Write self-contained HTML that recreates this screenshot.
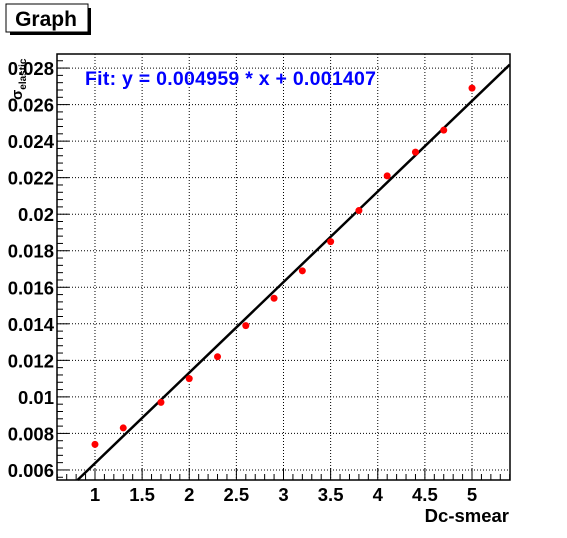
<!DOCTYPE html>
<html><head><style>
body{margin:0;background:#fff;font-family:"Liberation Sans",sans-serif}
</style></head><body>
<svg width="567" height="533" xmlns="http://www.w3.org/2000/svg" font-family="Liberation Sans, sans-serif">
<rect x="10" y="8" width="81" height="27" fill="#000"/>
<rect x="6" y="4" width="82" height="28" fill="#fff" stroke="#000"/>
<text x="46" y="26" font-size="21" font-weight="bold" text-anchor="middle">Graph</text>
<g id="grid"></g><g id="axes"></g><g id="marks"></g>
<text x="85" y="85" font-size="19.5" font-weight="bold" fill="#0000ff" textLength="291">Fit: y = 0.004959 * x + 0.001407</text>
<text x="509" y="522" font-size="18.5" font-weight="bold" text-anchor="end">Dc-smear</text>
<text transform="translate(22,100) rotate(-90)" font-size="15" font-weight="bold">σ<tspan font-size="10" dy="4">elastic</tspan></text>
</svg>
<script>
const xs=[1,1.3,1.7,2,2.3,2.6,2.9,3.2,3.5,3.8,4.1,4.4,4.7,5];
const ys=[0.0074,0.0083,0.0097,0.0110,0.0122,0.0139,0.0154,0.0169,0.0185,0.0202,0.0221,0.0234,0.0246,0.0269];
const xTicks=[1,1.5,2,2.5,3,3.5,4,4.5,5];
const yTicks=[0.006,0.008,0.01,0.012,0.014,0.016,0.018,0.02,0.022,0.024,0.026,0.028];
const fitSlope=0.004959, fitIntercept=0.001407;
const L=57,R=510,T=54,B=480,xmin=0.597,xmax=5.403,ymin=0.00545,ymax=0.02877;
const X=v=>L+(v-xmin)/(xmax-xmin)*(R-L);
const Y=v=>B-(v-ymin)/(ymax-ymin)*(B-T);
const NS="http://www.w3.org/2000/svg";
function mk(t,a,p){const e=document.createElementNS(NS,t);for(const k in a)e.setAttribute(k,a[k]);p.appendChild(e);return e;}
const g=document.getElementById('grid'),ax=document.getElementById('axes'),m=document.getElementById('marks');
xTicks.forEach(v=>{const l=mk('line',{x1:X(v),x2:X(v),y1:T,y2:B,stroke:'#000','stroke-dasharray':'1,2','stroke-width':1},g);

const t=mk('text',{x:X(v),y:501,'font-size':18.5,'font-weight':'bold','text-anchor':'middle'},ax);t.textContent=v;
});
yTicks.forEach(v=>{const l=mk('line',{x1:L,x2:R,y1:Y(v),y2:Y(v),stroke:'#000','stroke-dasharray':'1,2','stroke-width':1},g);

const t=mk('text',{x:54,y:Y(v)+7,'font-size':18.5,'font-weight':'bold','text-anchor':'end'},ax);t.textContent=v;
});
for(let v=0.6;v<5.41;v+=0.1){const big=Math.abs(v*2-Math.round(v*2))<1e-6;const l=mk('line',{x1:X(v),x2:X(v),y1:B,y2:B-(big?12:6),stroke:'#000'},ax);
}
for(let v=0.0056;v<0.0288;v+=0.0004){const big=Math.abs(v/0.002-Math.round(v/0.002))<1e-4;const l=mk('line',{x1:L,x2:L+(big?12:6),y1:Y(v),y2:Y(v),stroke:'#000'},ax);
}
const f=mk('rect',{x:L,y:T,width:R-L,height:B-T,fill:'none',stroke:'#000','stroke-width':1.5},ax);

const x0=(ymin-fitIntercept)/fitSlope, x1=5.4;
const fl=mk('line',{x1:X(x0),y1:Y(ymin),x2:X(x1),y2:Y(fitSlope*x1+fitIntercept),stroke:'#000','stroke-width':2.5},m);

xs.forEach((v,i)=>{const c=mk('circle',{cx:X(v),cy:Y(ys[i]),r:3.5,fill:'#ff0000'},m);
});
</script>
</body></html>
